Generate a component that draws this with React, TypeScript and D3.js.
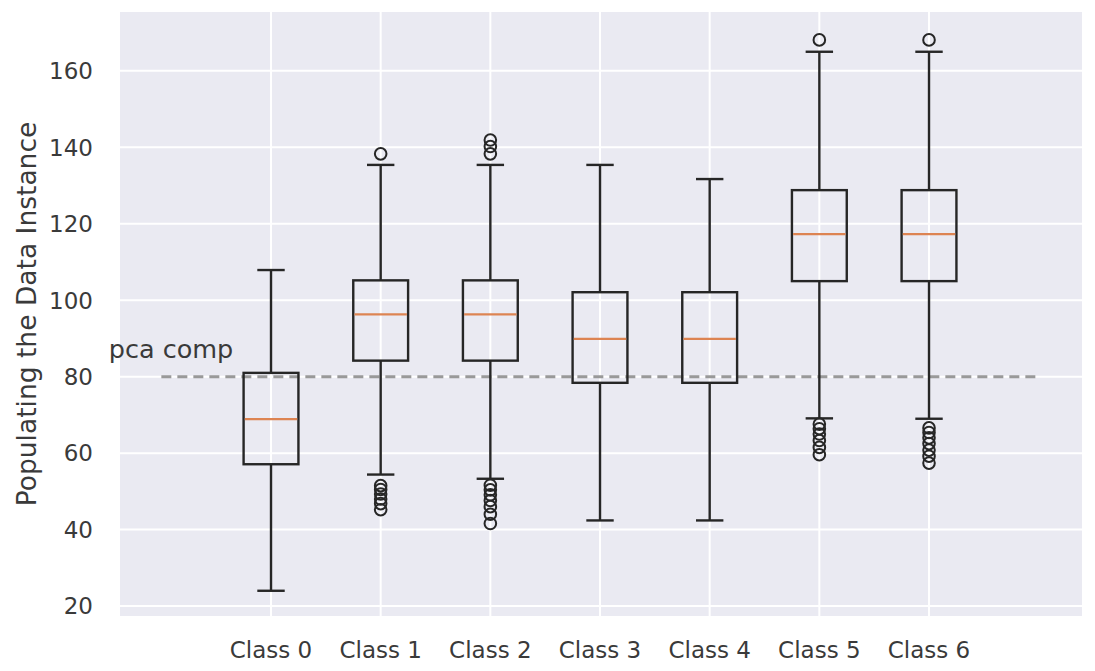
import React, { useEffect, useRef } from 'react';
import * as d3 from 'd3';

const classes = ['Class 0', 'Class 1', 'Class 2', 'Class 3', 'Class 4', 'Class 5', 'Class 6'];
const whiskerLow = [24, 54.4, 53.3, 42.4, 42.4, 69.1, 69];
const q1 = [57.1, 84.2, 84.2, 78.4, 78.4, 105, 105];
const median = [68.9, 96.3, 96.3, 89.9, 89.9, 117.3, 117.3];
const q3 = [81, 105.2, 105.2, 102.1, 102.1, 128.8, 128.8];
const whiskerHigh = [107.9, 135.4, 135.4, 135.4, 131.7, 165, 165];
const outliers = [
  [],
  [138.3, 51.5, 50.5, 49.3, 48, 46.8, 45.2],
  [141.9, 140.2, 138.3, 51.6, 50.4, 49.1, 47.6, 46, 44, 41.6],
  [],
  [],
  [168.1, 67.6, 66.4, 65, 63.3, 61.5, 59.6],
  [168.1, 66.6, 65.4, 64, 62.5, 60.8, 59.2, 57.4],
];
const yTicks = [20, 40, 60, 80, 100, 120, 140, 160];
const thresholdValue = 80;
const thresholdLabel = 'pca comp';

const App: React.FC = () => {
  const svgRef = useRef<SVGSVGElement>(null);

  useEffect(() => {
    document.body.style.margin = '0';
    if (!svgRef.current) return;

    const svg = d3.select(svgRef.current);
    svg.selectAll('*').remove();

    const width = 1095;
    const height = 671;
    const plot = { left: 120, top: 12, right: 1082, bottom: 616 };
    const font = 'DejaVu Sans, sans-serif';
    const textColor = '#3a3a3a';

    const x = d3.scaleLinear().domain([-0.377, 8.395]).range([plot.left, plot.right]);
    const y = d3.scaleLinear().domain([17.4, 175.4]).range([plot.bottom, plot.top]);

    svg.append('rect').attr('width', width).attr('height', height).attr('fill', '#ffffff');
    svg
      .append('rect')
      .attr('x', plot.left)
      .attr('y', plot.top)
      .attr('width', plot.right - plot.left)
      .attr('height', plot.bottom - plot.top)
      .attr('fill', '#eaeaf2');

    // grid
    const grid = svg.append('g').attr('stroke', '#ffffff').attr('stroke-width', 2);
    grid
      .selectAll('line.h')
      .data(yTicks)
      .enter()
      .append('line')
      .attr('x1', plot.left)
      .attr('x2', plot.right)
      .attr('y1', (d) => y(d))
      .attr('y2', (d) => y(d));
    grid
      .selectAll('line.v')
      .data(classes)
      .enter()
      .append('line')
      .attr('x1', (_, i) => x(i + 1))
      .attr('x2', (_, i) => x(i + 1))
      .attr('y1', plot.top)
      .attr('y2', plot.bottom);

    // tick labels
    svg
      .append('g')
      .selectAll('text')
      .data(yTicks)
      .enter()
      .append('text')
      .attr('x', 93)
      .attr('y', (d) => y(d))
      .attr('dy', '0.36em')
      .attr('text-anchor', 'end')
      .attr('font-family', font)
      .attr('font-size', 23)
      .attr('fill', textColor)
      .text((d) => d);

    svg
      .append('g')
      .selectAll('text')
      .data(classes)
      .enter()
      .append('text')
      .attr('x', (_, i) => x(i + 1))
      .attr('y', 658)
      .attr('text-anchor', 'middle')
      .attr('font-family', font)
      .attr('font-size', 23)
      .attr('fill', textColor)
      .text((d) => d);

    svg
      .append('text')
      .attr('transform', `translate(36,${(plot.top + plot.bottom) / 2}) rotate(-90)`)
      .attr('text-anchor', 'middle')
      .attr('font-family', font)
      .attr('font-size', 26.5)
      .attr('fill', textColor)
      .text('Populating the Data Instance');

    // threshold line
    svg
      .append('line')
      .attr('x1', x(0))
      .attr('x2', x(8))
      .attr('y1', y(thresholdValue))
      .attr('y2', y(thresholdValue))
      .attr('stroke', '#999999')
      .attr('stroke-width', 3)
      .attr('stroke-dasharray', '10,6');

    svg
      .append('text')
      .attr('x', x(-0.48))
      .attr('y', y(85))
      .attr('font-family', font)
      .attr('font-size', 25.5)
      .attr('fill', textColor)
      .text(thresholdLabel);

    // boxes
    const boxW = x(0.25) - x(0);
    const capW = x(0.125) - x(0);
    const boxes = svg
      .append('g')
      .selectAll('g')
      .data(classes)
      .enter()
      .append('g')
      .attr('fill', 'none')
      .attr('stroke', '#262626')
      .attr('stroke-width', 2.4);

    boxes.each(function (_, i) {
      const g = d3.select(this);
      const cx = x(i + 1);
      g.append('line').attr('x1', cx).attr('x2', cx).attr('y1', y(q1[i])).attr('y2', y(whiskerLow[i]));
      g.append('line').attr('x1', cx).attr('x2', cx).attr('y1', y(q3[i])).attr('y2', y(whiskerHigh[i]));
      g.append('line')
        .attr('x1', cx - capW)
        .attr('x2', cx + capW)
        .attr('y1', y(whiskerLow[i]))
        .attr('y2', y(whiskerLow[i]));
      g.append('line')
        .attr('x1', cx - capW)
        .attr('x2', cx + capW)
        .attr('y1', y(whiskerHigh[i]))
        .attr('y2', y(whiskerHigh[i]));
      g.append('rect')
        .attr('x', cx - boxW)
        .attr('y', y(q3[i]))
        .attr('width', boxW * 2)
        .attr('height', y(q1[i]) - y(q3[i]));
      g.append('line')
        .attr('x1', cx - boxW + 1.2)
        .attr('x2', cx + boxW - 1.2)
        .attr('y1', y(median[i]))
        .attr('y2', y(median[i]))
        .attr('stroke', '#dd8452')
        .attr('stroke-width', 2.2);
      g.selectAll('circle')
        .data(outliers[i])
        .enter()
        .append('circle')
        .attr('cx', cx)
        .attr('cy', (d) => y(d))
        .attr('r', 5.8)
        .attr('stroke-width', 2);
    });
  }, []);

  return <svg ref={svgRef} width={1095} height={671} style={{ display: 'block' }}></svg>;
};

export default App;
